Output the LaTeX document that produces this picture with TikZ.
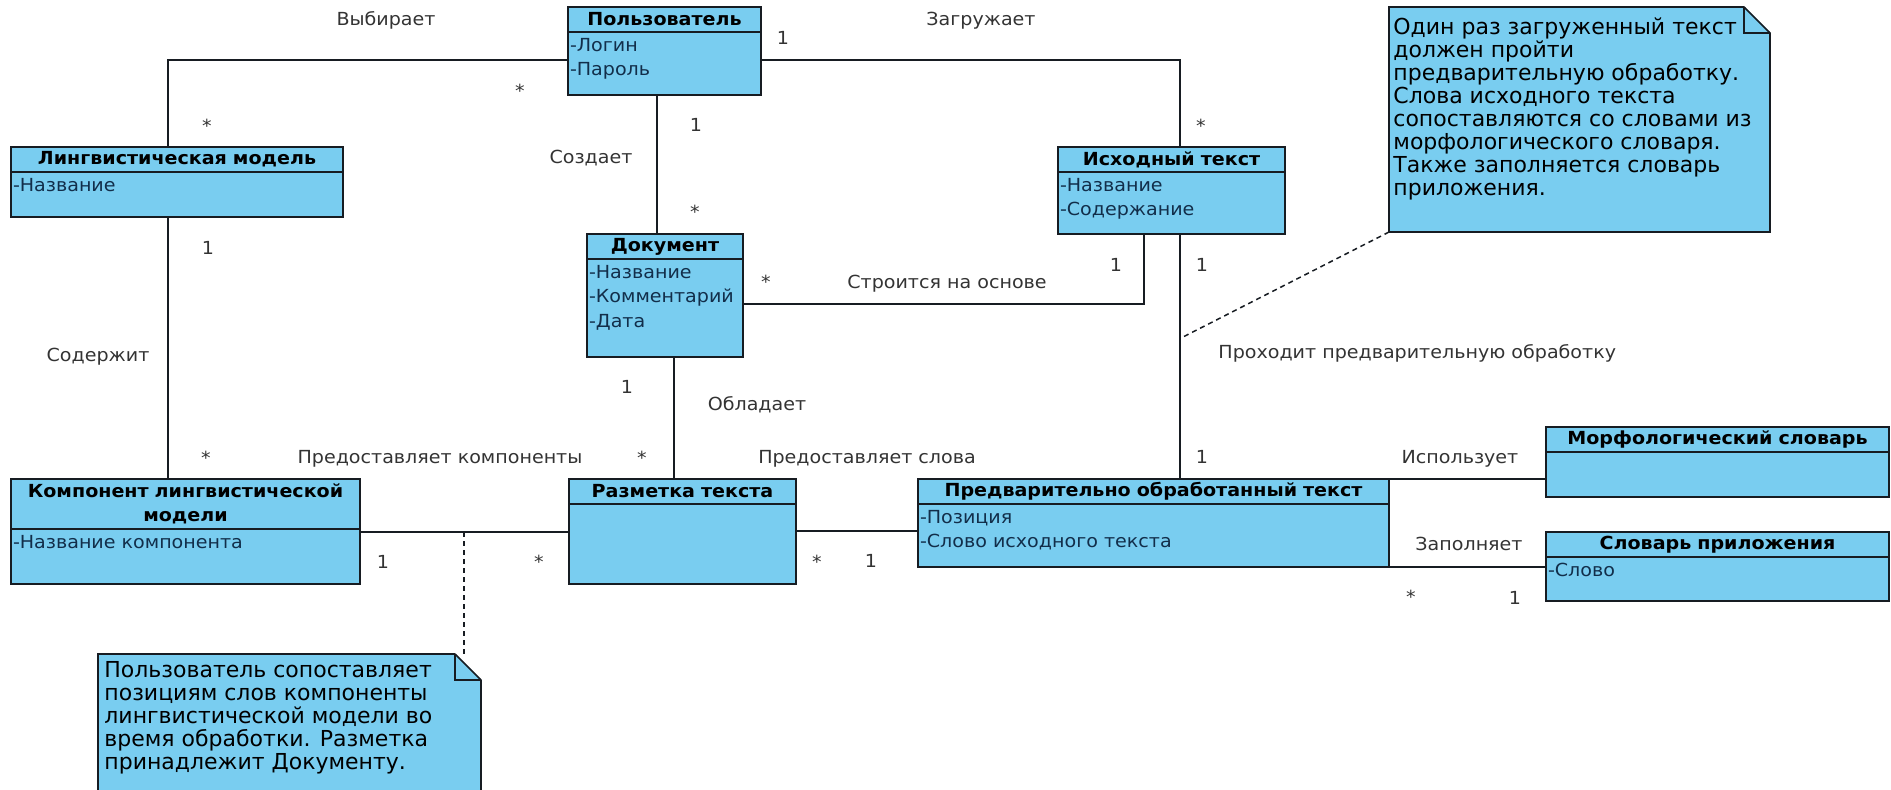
\documentclass[tikz,border=0pt]{standalone}
\usepackage{fontspec}
\setmainfont{DejaVu Sans}[FakeStretch=1.06]
\newfontfamily\dianotefamily{DejaVu Sans}

\newlength{\du}
\setlength{\du}{0.5\unitlength}

\definecolor{dialinecolor}{rgb}{0.090196, 0.109804, 0.133333}
\definecolor{diafillcolor}{rgb}{0.474510, 0.803922, 0.941176}
\definecolor{diatextcolor}{rgb}{0.200000, 0.200000, 0.200000}
\definecolor{diaattrcolor}{rgb}{0.070588, 0.180392, 0.290196}
\newcommand{\diafont}{\fontsize{9}{12.25}\selectfont}
\newcommand{\dianotefont}{\dianotefamily\fontsize{11}{11.5}\selectfont}

\tikzset{
  diaclass/.style={draw=dialinecolor, fill=diafillcolor, line width=1.5\du, anchor=north west, inner sep=0pt, outer sep=0pt},
  diahead/.style={anchor=north, inner sep=0pt, outer sep=0pt, minimum height=25\du, align=center, font=\diafont\bfseries, text=black},
  diaattr/.style={anchor=north west, inner xsep=2\du, inner ysep=6\du, outer sep=0pt, align=left, font=\diafont, text=diaattrcolor},
  dialabel/.style={anchor=base, inner sep=0pt, font=\diafont, text=diatextcolor},
  diaassoc/.style={draw=dialinecolor, line width=1.5\du},
  dianote/.style={draw=dialinecolor, fill=diafillcolor, line width=1.5\du, anchor=north west, inner sep=0pt, outer sep=0pt},
  dianotetext/.style={anchor=north west, inner sep=0pt, align=left, font=\dianotefont, text=black},
  dialink/.style={draw=dialinecolor, line width=1.5\du, dash pattern=on 5\du off 4\du},
}

\begin{document}
\begin{tikzpicture}
\pgftransformxscale{1.000000}
\pgftransformyscale{-1.000000}
\useasboundingbox (0\du,0\du) rectangle (1891\du,789\du);
% classes
\node[diaclass, minimum width=193\du, minimum height=88\du] (usr) at (568\du,7\du) {};
\node[diahead, text width=193\du] (usr-h) at (usr.north) {Пользователь};
\draw[diaassoc] (usr-h.south west) -- (usr-h.south east);
\node[diaattr] (usr-a) at (usr-h.south west) {-Логин\\-Пароль};

\node[diaclass, minimum width=332\du, minimum height=70\du] (lm) at (11\du,147\du) {};
\node[diahead, text width=332\du] (lm-h) at (lm.north) {Лингвистическая модель};
\draw[diaassoc] (lm-h.south west) -- (lm-h.south east);
\node[diaattr] (lm-a) at (lm-h.south west) {-Название};

\node[diaclass, minimum width=227\du, minimum height=87\du] (src) at (1058\du,147\du) {};
\node[diahead, text width=227\du] (src-h) at (src.north) {Исходный текст};
\draw[diaassoc] (src-h.south west) -- (src-h.south east);
\node[diaattr] (src-a) at (src-h.south west) {-Название\\-Содержание};

\node[diaclass, minimum width=156\du, minimum height=123\du] (doc) at (587\du,234\du) {};
\node[diahead, text width=156\du] (doc-h) at (doc.north) {Документ};
\draw[diaassoc] (doc-h.south west) -- (doc-h.south east);
\node[diaattr] (doc-a) at (doc-h.south west) {-Название\\-Комментарий\\-Дата};

\node[diaclass, minimum width=349\du, minimum height=105\du] (cmp) at (11\du,479\du) {};
\node[diahead, text width=349\du, minimum height=50\du] (cmp-h) at (cmp.north) {Компонент лингвистической\\модели};
\draw[diaassoc] (cmp-h.south west) -- (cmp-h.south east);
\node[diaattr] (cmp-a) at (cmp-h.south west) {-Название компонента};

\node[diaclass, minimum width=227\du, minimum height=105\du] (mrk) at (569\du,479\du) {};
\node[diahead, text width=227\du] (mrk-h) at (mrk.north) {Разметка текста};
\draw[diaassoc] (mrk-h.south west) -- (mrk-h.south east);

\node[diaclass, minimum width=471\du, minimum height=88\du] (pot) at (918\du,479\du) {};
\node[diahead, text width=471\du] (pot-h) at (pot.north) {Предварительно обработанный текст};
\draw[diaassoc] (pot-h.south west) -- (pot-h.south east);
\node[diaattr] (pot-a) at (pot-h.south west) {-Позиция\\-Слово исходного текста};

\node[diaclass, minimum width=343\du, minimum height=70\du] (mor) at (1546\du,427\du) {};
\node[diahead, text width=343\du] (mor-h) at (mor.north) {Морфологический словарь};
\draw[diaassoc] (mor-h.south west) -- (mor-h.south east);

\node[diaclass, minimum width=343\du, minimum height=69\du] (dic) at (1546\du,532\du) {};
\node[diahead, text width=343\du] (dic-h) at (dic.north) {Словарь приложения};
\draw[diaassoc] (dic-h.south west) -- (dic-h.south east);
\node[diaattr] (dic-a) at (dic-h.south west) {-Слово};

% notes
\node[dianote, minimum width=381\du, minimum height=225\du] (n1) at (1389\du,7\du) {};
\fill[white] (1743\du,5\du) -- (1772\du,5\du) -- (1772\du,34\du) -- cycle;
\draw[diaassoc] (1744\du,7\du) -- (1770\du,33\du);
\draw[diaassoc] (1744\du,7\du) -- (1744\du,33\du) -- (1770\du,33\du);
\node[dianotetext] (n1-t) at (1393\du,17\du) {Один раз загруженный текст\\должен пройти\\предварительную обработку.\\Слова исходного текста\\сопоставляются со словами из\\морфологического словаря.\\Также заполняется словарь\\приложения.};

\node[dianote, minimum width=383\du, minimum height=137\du] (n2) at (98\du,654\du) {};
\fill[white] (454\du,652\du) -- (483\du,652\du) -- (483\du,681\du) -- cycle;
\draw[diaassoc] (455\du,654\du) -- (481\du,680\du);
\draw[diaassoc] (455\du,654\du) -- (455\du,680\du) -- (481\du,680\du);
\node[dianotetext] (n2-t) at (104\du,661\du) {Пользователь сопоставляет\\позициям слов компоненты\\лингвистической модели во\\время обработки. Разметка\\принадлежит Документу.};

% associations
\coordinate (b-vyb) at (168\du,60\du);
\coordinate (b-zag) at (1180\du,60\du);
\coordinate (b-soz) at (657\du,150\du);
\coordinate (b-str) at (1144\du,304\du);
\coordinate (b-obl) at (674\du,420\du);
\coordinate (b-pk) at (464\du,532\du);
\coordinate (b-ps) at (850\du,531\du);
\coordinate (c-proh) at (1181\du,338\du);
\draw[diaassoc] (usr.west |- b-vyb) -- (b-vyb) -- (lm.north -| b-vyb);
\draw[diaassoc] (usr.east |- b-zag) -- (b-zag) -- (src.north -| b-zag);
\draw[diaassoc] (usr.south -| b-soz) -- (doc.north -| b-soz);
\draw[diaassoc] (doc.east |- b-str) -- (b-str) -- (src.south -| b-str);
\draw[diaassoc] (src.south -| b-zag) -- (pot.north -| b-zag);
\draw[diaassoc] (lm.south -| b-vyb) -- (cmp.north -| b-vyb);
\draw[diaassoc] (doc.south -| b-obl) -- (mrk.north -| b-obl);
\draw[diaassoc] (cmp.east |- b-pk) -- (mrk.west |- b-pk);
\draw[diaassoc] (mrk.east |- b-ps) -- (pot.west |- b-ps);
\draw[diaassoc] (pot.north east) -- (mor.west |- pot.north east);
\draw[diaassoc] (pot.south east) -- (dic.west |- pot.south east);
\draw[dialink] (n1.south west) -- (c-proh);
\draw[dialink] (b-pk) -- (n2.north -| b-pk);

% labels
\node[dialabel] (l-vyb) at (386\du,25\du) {Выбирает};
\node[dialabel] (m-vyb1) at (520\du,97\du) {*};
\node[dialabel] (m-vyb2) at (207\du,132\du) {*};
\node[dialabel] (l-zag) at (981\du,25\du) {Загружает};
\node[dialabel] (m-zag1) at (783\du,44\du) {1};
\node[dialabel] (m-zag2) at (1201\du,132\du) {*};
\node[dialabel] (l-soz) at (591\du,163\du) {Создает};
\node[dialabel] (m-soz1) at (696\du,131\du) {1};
\node[dialabel] (m-soz2) at (695\du,218\du) {*};
\node[dialabel] (m-str1) at (766\du,288\du) {*};
\node[dialabel] (l-str) at (947\du,288\du) {Строится на основе};
\node[dialabel] (m-str2) at (1116\du,271\du) {1};
\node[dialabel] (m-proh1) at (1202\du,271\du) {1};
\node[dialabel] (m-proh2) at (1202\du,463\du) {1};
\node[dialabel, anchor=base west] (l-proh) at (1218\du,358\du) {Проходит предварительную обработку};
\node[dialabel] (m-sod1) at (208\du,254\du) {1};
\node[dialabel] (l-sod) at (98\du,361\du) {Содержит};
\node[dialabel] (m-sod2) at (206\du,464\du) {*};
\node[dialabel] (m-obl1) at (627\du,393\du) {1};
\node[dialabel] (l-obl) at (757\du,410\du) {Обладает};
\node[dialabel] (m-obl2) at (642\du,464\du) {*};
\node[dialabel] (l-pk) at (440\du,463\du) {Предоставляет компоненты};
\node[dialabel] (m-pk1) at (383\du,568\du) {1};
\node[dialabel] (m-pk2) at (539\du,568\du) {*};
\node[dialabel] (l-ps) at (867\du,463\du) {Предоставляет слова};
\node[dialabel] (m-ps1) at (817\du,568\du) {*};
\node[dialabel] (m-ps2) at (871\du,567\du) {1};
\node[dialabel] (l-isp) at (1460\du,463\du) {Использует};
\node[dialabel] (l-zap) at (1469\du,550\du) {Заполняет};
\node[dialabel] (m-zap1) at (1411\du,603\du) {*};
\node[dialabel] (m-zap2) at (1515\du,604\du) {1};
\end{tikzpicture}
\end{document}
